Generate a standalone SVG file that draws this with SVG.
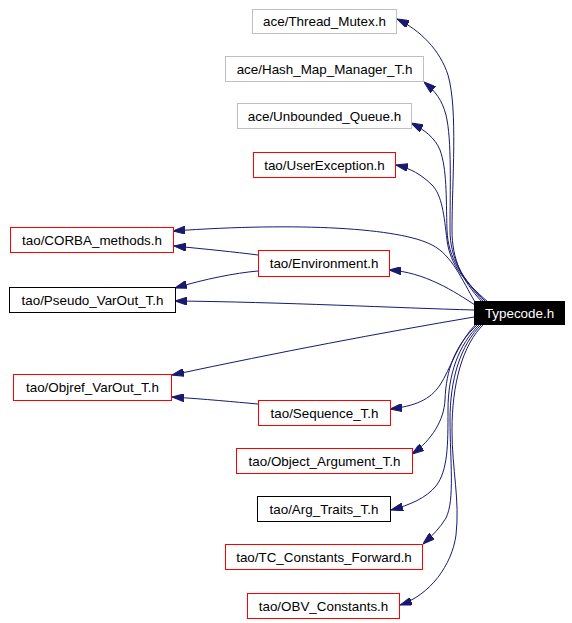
<svg xmlns="http://www.w3.org/2000/svg" width="572" height="623" viewBox="0 0 572 623">
<style>
.n rect{fill:#fff;stroke-width:1}
.red rect{stroke:#ff0000}
.gray rect{stroke:#bfbfbf}
.blk rect{stroke:#000}
text{font-family:"Liberation Sans",Arial,sans-serif;font-size:13.4px;text-anchor:middle;fill:#000}
.e path{fill:none;stroke:#191970;stroke-width:1;marker-end:url(#ah)}
</style>
<defs>
<marker id="ah" viewBox="0 0 12 8" refX="12" refY="4" markerWidth="12" markerHeight="8" markerUnits="userSpaceOnUse" orient="auto">
<path d="M0,0 L12,4 L0,8 z" fill="#191970" stroke="#191970"/>
</marker>
</defs>
<rect width="572" height="623" fill="#fff"/>
<g class="e">
<path d="M482,302 C462,280 452,260 452,230 C452,180 458,110 448,75 C440,50 420,30 397,19"/>
<path d="M484,302 C462,278 450,258 450,230 C450,190 452,140 446,115 C442,100 436,92 424,82"/>
<path d="M486,302 C462,278 448,258 447,230 C446,195 447,170 440,150 C435,138 425,130 411,123"/>
<path d="M488,302 C465,282 450,265 447,240 C444,215 442,195 432,185 C422,175 410,168 396,165"/>
<path d="M475,302 C462,280 452,255 432,245 C400,228 300,222 173,231"/>
<path d="M475,305 C455,292 425,272 389,270"/>
<path d="M258,255 C235,252 205,249 174,246"/>
<path d="M258,271 C235,273 205,279 175,288"/>
<path d="M474,310 C400,308 280,302 175,301"/>
<path d="M474,317 C380,333 280,352 172,375"/>
<path d="M258,404 C235,402 205,399 172,397"/>
<path d="M476,324 C458,342 450,370 440,385 C430,400 415,406 390,409"/>
<path d="M478,324 C455,345 446,370 445,400 C444,420 432,440 412,454"/>
<path d="M480,324 C458,345 448,375 448,410 C448,445 448,470 436,486 C426,498 410,505 391,510"/>
<path d="M482,324 C460,345 450,380 450,420 C450,460 455,500 446,518 C440,528 432,536 423,544"/>
<path d="M484,324 C462,345 452,385 452,430 C452,470 460,500 456,535 C452,565 430,595 400,605"/>
</g>
<g id="n_typecode"><rect x="474.5" y="301.5" width="90" height="23" fill="#000" stroke="#000"/><text x="519.5" y="318" style="fill:#fff">Typecode.h</text></g>
<g id="n_thread_mutex" class="n gray"><rect x="252.5" y="9.5" width="144" height="24"/><text x="324.5" y="26">ace/Thread_Mutex.h</text></g>
<g id="n_hash_map" class="n gray"><rect x="225.5" y="56.5" width="198" height="25"/><text x="324.5" y="73.5">ace/Hash_Map_Manager_T.h</text></g>
<g id="n_unbounded" class="n gray"><rect x="237.5" y="103.5" width="174" height="25"/><text x="324.5" y="120.5">ace/Unbounded_Queue.h</text></g>
<g id="n_userexc" class="n red"><rect x="253.5" y="152.5" width="142" height="25"/><text x="324.5" y="169.5">tao/UserException.h</text></g>
<g id="n_corba" class="n red"><rect x="10.5" y="227.5" width="163" height="25"/><text x="92" y="244.5">tao/CORBA_methods.h</text></g>
<g id="n_env" class="n red"><rect x="258.5" y="250.5" width="131" height="26"/><text x="324" y="268">tao/Environment.h</text></g>
<g id="n_pseudo" class="n blk"><rect x="9.5" y="287.5" width="166" height="25"/><text x="92.5" y="304.5">tao/Pseudo_VarOut_T.h</text></g>
<g id="n_objref" class="n red"><rect x="13.5" y="374.5" width="158" height="26"/><text x="92.5" y="392">tao/Objref_VarOut_T.h</text></g>
<g id="n_seq" class="n red"><rect x="258.5" y="400.5" width="132" height="25"/><text x="324.5" y="417.5">tao/Sequence_T.h</text></g>
<g id="n_objarg" class="n red"><rect x="236.5" y="448.5" width="176" height="25"/><text x="324.5" y="465.5">tao/Object_Argument_T.h</text></g>
<g id="n_argtraits" class="n blk"><rect x="257.5" y="496.5" width="133" height="25"/><text x="324" y="513.5">tao/Arg_Traits_T.h</text></g>
<g id="n_tcconst" class="n red"><rect x="225.5" y="544.5" width="197" height="25"/><text x="324" y="561.5">tao/TC_Constants_Forward.h</text></g>
<g id="n_obv" class="n red"><rect x="247.5" y="593.5" width="152" height="25"/><text x="323.5" y="610.5">tao/OBV_Constants.h</text></g>
</svg>
